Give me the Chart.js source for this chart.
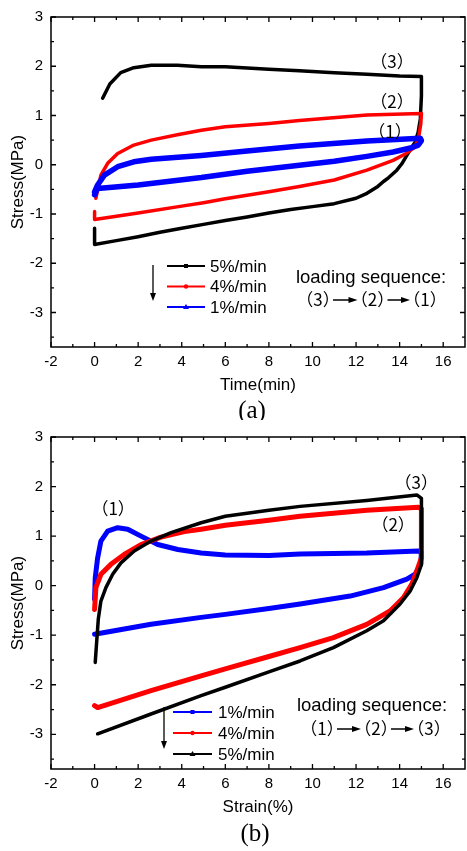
<!DOCTYPE html>
<html><head><meta charset="utf-8">
<script src="https://cdn.jsdelivr.net/npm/chart.js@4/dist/chart.umd.min.js"></script>
<style>
html,body{margin:0;padding:0;background:#fff;}
canvas{display:block;}
</style></head>
<body>
<canvas id="ca" width="467" height="420"></canvas>
<canvas id="cb" width="467" height="431"></canvas>
<script>
// ---- tick labels ----
const xTicks = [-2,0,2,4,6,8,10,12,14,16];
const yTicks = [-3,-2,-1,0,1,2,3];

// ---- chart (a): Stress vs Time ----
const labelsA = ['5%/min','4%/min','1%/min'];
const timeA5 = [0,0,1,2,3,4,5,6,7,8,9,10,11,12,12.5,13,13.26,13.5,13.87,14.1,14.33,14.55,14.71,14.85,14.95,15,15,14,12.5,11,9.4,8,6,4.9,3.8,2.6,1.8,1.2,0.7,0.37];
const stressA5 = [-1.29,-1.62,-1.54,-1.46,-1.37,-1.29,-1.21,-1.13,-1.06,-0.98,-0.91,-0.85,-0.79,-0.68,-0.58,-0.44,-0.34,-0.26,-0.11,0.02,0.19,0.35,0.46,0.66,0.93,1.40,1.79,1.80,1.84,1.87,1.91,1.94,1.99,1.99,2.02,2.02,1.97,1.87,1.64,1.35];
const timeA4 = [0,0,2,4,5,6,8,9.4,11,12.5,13.7,14.3,14.7,14.86,14.97,15,12.5,9.4,8,6,4.9,3.8,2.6,1.8,1.06,0.6,0.29,0.06];
const stressA4 = [-0.95,-1.11,-0.98,-0.84,-0.77,-0.69,-0.55,-0.44,-0.31,-0.11,0.09,0.23,0.36,0.53,0.83,1.04,1.01,0.90,0.84,0.77,0.70,0.61,0.50,0.40,0.23,0.03,-0.21,-0.68];
const timeA1 = [0,0.14,2,4.9,7,9.4,11,12.5,13.7,14.5,14.86,15,14.95,12.5,9.4,7,4.9,2.6,1.8,1.06,0.45,0.14,0];
const stressA1 = [-0.61,-0.48,-0.41,-0.26,-0.13,-0.01,0.07,0.17,0.26,0.34,0.40,0.49,0.54,0.48,0.38,0.28,0.19,0.11,0.06,-0.04,-0.21,-0.41,-0.55];

// ---- chart (b): Stress vs Strain ----
const labelsB = ['1%/min','4%/min','5%/min'];
const strainB1 = [0,0.03,0.14,0.29,0.6,1.06,1.52,2.13,2.9,3.82,4.89,6,8,9.43,12.49,14.86,15,14.97,14.71,14.33,13.26,11.73,9.43,8,6,4.89,2.59,0];
const stressB1 = [-0.27,0.16,0.56,0.90,1.10,1.17,1.14,1.00,0.83,0.73,0.66,0.62,0.61,0.64,0.66,0.70,0.66,0.43,0.23,0.13,-0.04,-0.21,-0.37,-0.46,-0.58,-0.64,-0.78,-0.98];
const strainB4 = [0,0.06,0.29,0.75,1.36,2.13,3.05,4.12,4.89,6,8,9.43,12.49,14.86,15,15,15,14.79,14.56,14.18,13.56,12.49,10.96,9.43,8,6,4.89,2.59,0.14,0];
const stressB4 = [-0.48,-0.04,0.23,0.43,0.63,0.83,0.98,1.09,1.14,1.22,1.32,1.40,1.52,1.58,1.55,0.97,0.56,0.30,0.03,-0.24,-0.51,-0.78,-1.05,-1.25,-1.43,-1.68,-1.82,-2.12,-2.46,-2.42];
const strainB5 = [0.03,0.1,0.17,0.29,0.52,0.83,1.21,1.82,2.59,3.51,4.89,6,8,9.43,12.49,14.79,15,15,15,14.79,14.48,14.02,13.26,12.49,10.96,9.43,8,6,4.89,2.59,0.14];
const stressB5 = [-1.55,-1.11,-0.68,-0.31,-0.04,0.23,0.46,0.70,0.90,1.07,1.27,1.40,1.52,1.60,1.72,1.83,1.76,0.90,0.43,0.16,-0.11,-0.37,-0.71,-0.91,-1.25,-1.52,-1.74,-2.05,-2.22,-2.59,-2.99];

const BLACK='#000000', RED='#ff0000', BLUE='#0000ff';
const SANS = "Arial, 'Liberation Sans', sans-serif";
const CJK = "'Noto Sans CJK SC', Arial, 'Liberation Sans', sans-serif";
Chart.defaults.font.family = SANS;
Chart.defaults.color = '#000';

function pts(xs, ys){ return xs.map((x,i)=>({x:x, y:ys[i]})); }

function drawMarker(ctx, style, x, y, color){
  ctx.fillStyle = color;
  ctx.beginPath();
  if(style==='rect'){ ctx.rect(x-2,y-2,4,4); }
  else if(style==='circle'){ ctx.arc(x,y,2.2,0,Math.PI*2); }
  else { ctx.moveTo(x,y-3); ctx.lineTo(x+3,y+2); ctx.lineTo(x-3,y+2); ctx.closePath(); }
  ctx.fill();
}

function hArrow(ctx, x1, x2, y){
  ctx.beginPath(); ctx.moveTo(x1, y); ctx.lineTo(x2-6, y); ctx.stroke();
  ctx.beginPath(); ctx.moveTo(x2-9, y-3); ctx.lineTo(x2, y); ctx.lineTo(x2-9, y+3); ctx.closePath(); ctx.fill();
}

function makeDecor(cfg){
  return {
    id:'decor',
    afterDraw(chart){
      const {ctx, chartArea:a, scales:{x, y}} = chart;
      ctx.save();
      // frame
      ctx.strokeStyle='#000'; ctx.lineWidth=1.5;
      ctx.strokeRect(a.left, a.top, a.right-a.left, a.bottom-a.top);
      // inward ticks on all four sides
      ctx.lineWidth=1.3;
      const tk = (v, len, horiz) => {
        ctx.beginPath();
        if(horiz){ const p=x.getPixelForValue(v); ctx.moveTo(p,a.bottom); ctx.lineTo(p,a.bottom-len); ctx.moveTo(p,a.top); ctx.lineTo(p,a.top+len); }
        else { const p=y.getPixelForValue(v); ctx.moveTo(a.left,p); ctx.lineTo(a.left+len,p); ctx.moveTo(a.right,p); ctx.lineTo(a.right-len,p); }
        ctx.stroke();
      };
      xTicks.forEach(v=>{ tk(v,5,true); if(v+1<x.max) tk(v+1,3,true); });
      yTicks.forEach(v=>{ tk(v,5,false); if(v-0.5>y.min) tk(v-0.5,3,false); });
      // annotations
      ctx.fillStyle='#000'; ctx.textAlign='center'; ctx.textBaseline='middle';
      ctx.font = "17px " + CJK;
      cfg.notes.forEach(n=>{ ctx.fillText(n.t, x.getPixelForValue(n.x), y.getPixelForValue(n.y)); });
      // legend
      const L = cfg.legend;
      chart.data.datasets.forEach((ds,i)=>{
        const yy = L.y0 + i*L.dy;
        ctx.strokeStyle = ds.borderColor; ctx.lineWidth = 2;
        ctx.beginPath(); ctx.moveTo(L.x1, yy); ctx.lineTo(L.x2, yy); ctx.stroke();
        drawMarker(ctx, ds.pointStyle, (L.x1+L.x2)/2, yy, ds.borderColor);
        ctx.fillStyle='#000'; ctx.textAlign='left'; ctx.font = "17px " + SANS;
        ctx.fillText(ds.label, L.tx, yy+1);
      });
      // arrow
      const A = cfg.arrow;
      ctx.strokeStyle='#000'; ctx.fillStyle='#000'; ctx.lineWidth=1.3;
      ctx.beginPath(); ctx.moveTo(A.x, A.y1); ctx.lineTo(A.x, A.y2-6); ctx.stroke();
      ctx.beginPath(); ctx.moveTo(A.x-3, A.y2-8); ctx.lineTo(A.x+3, A.y2-8); ctx.lineTo(A.x, A.y2); ctx.closePath(); ctx.fill();
      // loading sequence
      const S = cfg.seq;
      ctx.textAlign='center';
      ctx.font = "18.5px " + SANS;
      ctx.fillText('loading sequence:', S.x, S.y1);
      ctx.font = "17px " + CJK;
      S.parts.forEach((t,i)=>{ ctx.fillText(t, S.px[i], S.y2); });
      ctx.lineWidth=1.5;
      hArrow(ctx, S.px[0]+15, S.px[1]-15, S.y2);
      hArrow(ctx, S.px[1]+15, S.px[2]-15, S.y2);
      // panel caption
      ctx.font = "25px 'Times New Roman', 'Liberation Serif', serif";
      ctx.fillText(cfg.caption.t, cfg.caption.x, cfg.caption.y);
      ctx.restore();
    }
  };
}

function makeChart(id, datasets, xTitle, cfg){
  return new Chart(document.getElementById(id), {
    type:'scatter',
    data:{ datasets },
    options:{
      responsive:false, animation:false, devicePixelRatio:1,
      layout:{ padding:{ left:0, right:2, top:cfg.top, bottom:0 } },
      plugins:{ legend:{display:false}, tooltip:{enabled:false} },
      elements:{ point:{ radius:0, hoverRadius:0 }, line:{ tension:0, borderJoinStyle:'round', borderCapStyle:'round' } },
      scales:{
        x:{
          type:'linear', min:-2, max:17,
          grid:{ display:false, drawTicks:false }, border:{ display:false },
          afterBuildTicks: s => { s.ticks = xTicks.map(v=>({value:v})); },
          afterFit: s => { s.height = cfg.xh; },
          ticks:{ font:{size:15}, color:'#000', padding:6, maxRotation:0, autoSkip:false },
          title:{ display:true, text:xTitle, font:{size:17}, color:'#000', padding:{top:0, bottom:cfg.xtp} }
        },
        y:{
          type:'linear', min:-3.7, max:3,
          grid:{ display:false, drawTicks:false }, border:{ display:false },
          afterBuildTicks: s => { s.ticks = yTicks.map(v=>({value:v})); },
          afterFit: s => { s.width = 51; },
          ticks:{ font:{size:15}, color:'#000', padding:8, autoSkip:false },
          title:{ display:true, text:'Stress(MPa)', font:{size:17}, color:'#000', padding:{top:8, bottom:0} }
        }
      }
    },
    plugins:[ makeDecor(cfg) ]
  });
}

const dsA = [
  { label:labelsA[0], data:pts(timeA5, stressA5), showLine:true, borderColor:BLACK, backgroundColor:BLACK, borderWidth:3.5, pointStyle:'rect', order:2 },
  { label:labelsA[1], data:pts(timeA4, stressA4), showLine:true, borderColor:RED, backgroundColor:RED, borderWidth:3.5, pointStyle:'circle', order:1 },
  { label:labelsA[2], data:pts(timeA1, stressA1), showLine:true, borderColor:BLUE, backgroundColor:BLUE, borderWidth:5.5, pointStyle:'triangle', order:0 }
];
makeChart('ca', dsA, 'Time(min)', {
  top:14, xh:73, xtp:24,
  notes:[ {t:'（3）', x:13.65, y:2.09}, {t:'（2）', x:13.65, y:1.29}, {t:'（1）', x:13.56, y:0.68} ],
  legend:{ x1:167, x2:205, tx:210, y0:266, dy:20.5 },
  arrow:{ x:153, y1:265, y2:301 },
  seq:{ x:371, y1:278, y2:300, parts:['（3）','（2）','（1）'], px:[318, 372.5, 425] },
  caption:{ t:'(a)', x:252, y:411 }
});

const dsB = [
  { label:labelsB[0], data:pts(strainB1, stressB1), showLine:true, borderColor:BLUE, backgroundColor:BLUE, borderWidth:5, pointStyle:'rect', order:2 },
  { label:labelsB[1], data:pts(strainB4, stressB4), showLine:true, borderColor:RED, backgroundColor:RED, borderWidth:5, pointStyle:'circle', order:1 },
  { label:labelsB[2], data:pts(strainB5, stressB5), showLine:true, borderColor:BLACK, backgroundColor:BLACK, borderWidth:3.5, pointStyle:'triangle', order:0 }
];
makeChart('cb', dsB, 'Strain(%)', {
  top:16, xh:82, xtp:33,
  notes:[ {t:'（1）', x:0.85, y:1.56}, {t:'（3）', x:14.76, y:2.09}, {t:'（2）', x:13.7, y:1.24} ],
  legend:{ x1:173, x2:212, tx:218, y0:292, dy:21 },
  arrow:{ x:164, y1:287, y2:329 },
  seq:{ x:372, y1:286, y2:309, parts:['（1）','（2）','（3）'], px:[322, 376, 429] },
  caption:{ t:'(b)', x:255, y:414 }
});
</script>
</body></html>
